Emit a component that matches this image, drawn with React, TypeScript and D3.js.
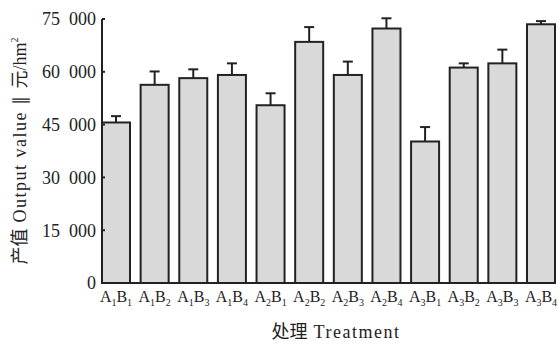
import React from "react";
import * as d3 from "d3";

const treatments = [
  ["1", "1"], ["1", "2"], ["1", "3"], ["1", "4"],
  ["2", "1"], ["2", "2"], ["2", "3"], ["2", "4"],
  ["3", "1"], ["3", "2"], ["3", "3"], ["3", "4"],
];
const outputValue = [45600, 56300, 58200, 59100, 50500, 68500, 59100, 72300, 40200, 61200, 62400, 73500];
const errorValue = [1800, 3800, 2500, 3300, 3400, 4200, 3800, 2900, 4100, 1200, 3900, 900];
const yTicks = [0, 15000, 30000, 45000, 60000, 75000];

const W = 558;
const H = 344;
const margin = { top: 19, right: 3, bottom: 61, left: 102 };
const serif = "'Liberation Serif', 'Times New Roman', serif";
const cjk = "'Noto Sans CJK SC', sans-serif";

export default function App() {
  const ids = treatments.map((_, i) => String(i));
  const x = d3
    .scaleBand()
    .domain(ids)
    .range([margin.left, W - margin.right])
    .paddingInner(0.275)
    .paddingOuter(0);
  const y = d3
    .scaleLinear()
    .domain([0, 75000])
    .range([H - margin.bottom, margin.top]);

  const fmt = (v: number) => (v === 0 ? "0" : d3.format(",")(v).replace(",", "  "));
  const stroke = "#222";

  return (
    <svg
      width={W}
      height={H}
      style={{ position: "absolute", left: 0, top: 0, background: "#fff" }}
    >
      {/* bars */}
      {outputValue.map((v, i) => {
        const bx = x(ids[i])!;
        const cx = bx + x.bandwidth() / 2;
        return (
          <g key={i}>
            <line
              x1={cx}
              x2={cx}
              y1={y(v)}
              y2={y(v + errorValue[i])}
              stroke={stroke}
              strokeWidth={2}
            />
            <line
              x1={cx - 5}
              x2={cx + 5}
              y1={y(v + errorValue[i])}
              y2={y(v + errorValue[i])}
              stroke={stroke}
              strokeWidth={2}
            />
            <rect
              x={bx}
              y={y(v)}
              width={x.bandwidth()}
              height={y(0) - y(v)}
              fill="#d9d9d9"
              stroke={stroke}
              strokeWidth={2}
            />
          </g>
        );
      })}

      {/* axes */}
      <line x1={margin.left} x2={margin.left} y1={y(75000)} y2={y(0)} stroke={stroke} strokeWidth={2} />
      <line x1={margin.left} x2={W - 2} y1={y(0)} y2={y(0)} stroke={stroke} strokeWidth={2} />
      {yTicks.map((t) => (
        <g key={t}>
          <line x1={margin.left} x2={margin.left + 3} y1={y(t)} y2={y(t)} stroke={stroke} strokeWidth={2} />
          <text
            x={margin.left - 6}
            y={y(t)}
            dy="0.35em"
            textAnchor="end"
            fontFamily={serif}
            fontSize={18}
            fill="#222"
            style={{ whiteSpace: "pre" }}
          >
            {fmt(t)}
          </text>
        </g>
      ))}

      {/* x labels */}
      {treatments.map(([a, b], i) => {
        const cx = x(ids[i])! + x.bandwidth() / 2;
        return (
          <text
            key={i}
            x={cx}
            y={H - margin.bottom + 19}
            textAnchor="middle"
            fontFamily={serif}
            fontSize={16}
            fill="#222"
          >
            A
            <tspan fontSize={10} dy={4}>{a}</tspan>
            <tspan dy={-4}>B</tspan>
            <tspan fontSize={10} dy={4}>{b}</tspan>
          </text>
        );
      })}

      {/* x title */}
      <text x={336} y={338} textAnchor="middle" fontSize={18} fill="#222">
        <tspan fontFamily={cjk}>处理</tspan>
        <tspan fontFamily={serif} letterSpacing={1.5}> Treatment</tspan>
      </text>

      {/* y title */}
      <text
        transform={`translate(26, ${(y(0) + y(75000)) / 2}) rotate(-90)`}
        textAnchor="middle"
        fontSize={18}
        fill="#222"
        style={{ whiteSpace: "pre" }}
      >
        <tspan fontFamily={cjk}>产值</tspan>
        <tspan fontFamily={serif} letterSpacing={1.5}> Output value ∥ </tspan>
        <tspan fontFamily={cjk}>元</tspan>
        <tspan fontFamily={serif}>/hm</tspan>
        <tspan fontFamily={serif} fontSize={10} dy={-8}>2</tspan>
      </text>
    </svg>
  );
}
